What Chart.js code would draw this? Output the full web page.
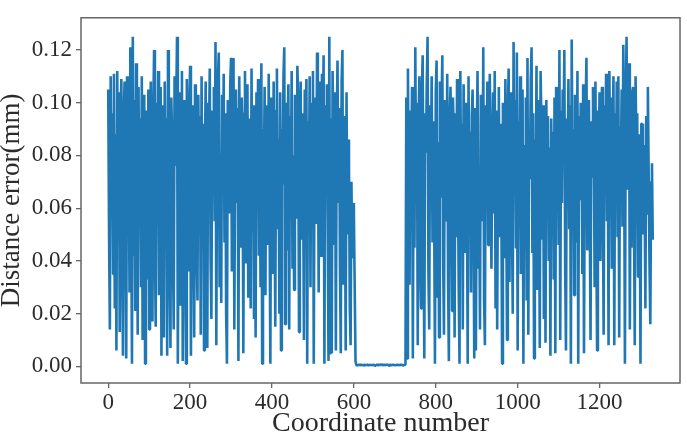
<!DOCTYPE html>
<html>
<head>
<meta charset="utf-8">
<script src="https://cdn.jsdelivr.net/npm/chart.js@4.4.1/dist/chart.umd.min.js"></script>
<style>
    html, body { margin: 0; padding: 0; background: #ffffff; }
    #wrap { width: 687px; height: 435px; }
</style>
</head>
<body>
<div id="wrap"><canvas id="myChart" width="687" height="435"></canvas></div>
<script>
// distance error per coordinate, in thousandths of a mm, one value every 2 coordinates
const coordStep = 2;

// coordinates 0 .. 604
const leftSegment = [
    105, 50, 14, 110, 62, 96, 35, 111, 22, 88,
    6, 112, 48, 104, 13, 92, 109, 40, 4, 97,
    108, 55, 3, 110, 71, 84, 28, 121, 60, 1,
    125, 42, 101, 21, 115, 79, 12, 106, 58, 94,
    30, 110, 10, 86, 103, 1, 77, 97, 33, 105,
    14, 89, 108, 62, 17, 95, 120, 45, 15, 100,
    73, 112, 27, 91, 106, 4, 84, 99, 11, 108,
    52, 94, 4, 120, 68, 38, 7, 102, 88, 44,
    14, 110, 76, 97, 125, 1, 59, 104, 23, 93,
    112, 2, 66, 101, 48, 1, 109, 81, 36, 97,
    114, 4, 70, 99, 57, 11, 107, 88, 43, 25,
    103, 67, 95, 12, 110, 50, 92, 6, 78, 108,
    34, 7, 100, 86, 113, 41, 18, 97, 72, 106,
    55, 123, 8, 89, 109, 119, 30, 81, 24, 103,
    65, 111, 47, 96, 20, 1, 101, 78, 58, 107,
    117, 36, 93, 117, 14, 84, 105, 62, 98, 2,
    110, 73, 45, 102, 88, 5, 96, 112, 39, 80,
    107, 26, 94, 63, 22, 113, 51, 99, 18, 87,
    11, 104, 76, 109, 42, 95, 30, 115, 1, 90,
    67, 106, 27, 99, 83, 46, 111, 58, 1, 102,
    92, 35, 108, 74, 15, 97, 113, 52, 86, 20,
    104, 6, 90, 69, 110, 121, 16, 100, 44, 88,
    107, 14, 95, 61, 112, 37, 80, 29, 103, 91,
    56, 114, 99, 13, 85, 108, 48, 96, 71, 10,
    105, 82, 109, 1, 93, 64, 110, 30, 100, 77,
    112, 1, 89, 102, 54, 119, 97, 28, 108, 68,
    42, 111, 86, 118, 1, 99, 73, 107, 57, 2,
    125, 5, 94, 5, 112, 83, 46, 104, 6, 90,
    116, 62, 98, 38, 5, 108, 120, 31, 95, 71,
    6, 104, 50, 86, 78, 22, 8, 70, 41, 62,
    58, 30, 2
];

// coordinates 606 .. 726
const flatSegment = [
    0.5, 0.4, 0.6, 0.5, 0.7, 0.4, 0.5, 0.6, 0.3, 0.5,
    0.6, 0.4, 0.5, 0.8, 0.5, 0.4, 0.6, 0.5, 0.5, 0.7,
    0.4, 0.6, 0.5, 0.3, 0.6, 0.5, 0.7, 0.4, 0.5, 0.6,
    0.5, 0.8, 0.4, 0.5, 0.6, 0.5, 0.4, 0.7, 0.5, 0.6,
    0.3, 0.5, 0.6, 0.4, 0.5, 0.7, 0.5, 0.6, 0.4, 0.5,
    0.6, 0.5, 0.4, 0.6, 0.5, 0.7, 0.5, 0.4, 0.6, 0.5,
    0.8
];

// coordinates 728 .. 1330
const rightSegment = [
    102, 3, 113, 58, 31, 97, 74, 106, 3, 88,
    45, 121, 66, 100, 8, 92, 110, 39, 22, 104,
    118, 52, 3, 96, 81, 107, 125, 36, 14, 99,
    71, 110, 47, 93, 60, 1, 104, 116, 26, 85,
    11, 108, 64, 97, 118, 42, 12, 101, 79, 55,
    111, 33, 2, 94, 106, 68, 21, 102, 87, 11,
    96, 49, 109, 75, 30, 1, 112, 58, 92, 14,
    107, 80, 43, 100, 66, 1, 110, 52, 89, 28,
    95, 105, 61, 3, 98, 6, 84, 112, 37, 70,
    14, 103, 90, 55, 121, 25, 8, 99, 76, 108,
    46, 94, 111, 63, 37, 86, 104, 58, 112, 22,
    97, 14, 81, 106, 49, 92, 70, 1, 100, 85,
    41, 109, 66, 10, 95, 113, 32, 88, 104, 57,
    20, 123, 79, 101, 45, 119, 6, 93, 68, 110,
    35, 98, 105, 1, 84, 60, 102, 25, 117, 12,
    90, 71, 108, 121, 43, 96, 3, 86, 55, 114,
    29, 101, 77, 7, 112, 92, 48, 99, 18, 88,
    9, 101, 64, 95, 40, 83, 4, 94, 57, 89,
    33, 102, 5, 106, 70, 91, 46, 120, 10, 97,
    62, 105, 85, 120, 38, 6, 94, 74, 109, 52,
    99, 1, 124, 68, 90, 27, 103, 81, 47, 112,
    1, 95, 63, 100, 88, 35, 107, 5, 79, 98,
    117, 44, 86, 101, 59, 10, 93, 72, 106, 89,
    30, 108, 51, 6, 97, 83, 104, 40, 90, 106,
    66, 12, 99, 78, 111, 55, 94, 8, 112, 71,
    102, 37, 87, 110, 8, 96, 63, 108, 49, 110,
    11, 91, 74, 105, 53, 122, 84, 1, 100, 125,
    67, 98, 115, 14, 88, 45, 104, 106, 60, 8,
    110, 79, 96, 34, 88, 71, 1, 92, 92, 50,
    84, 66, 22, 95, 58, 106, 73, 39, 16, 70,
    77, 48
];

const xTicks = [0, 200, 400, 600, 800, 1000, 1200];
const yTicks = [0.00, 0.02, 0.04, 0.06, 0.08, 0.10, 0.12];

const serif = "'Liberation Serif', 'DejaVu Serif', serif";
const textColor = '#2b2b2b';
const frameColor = '#666666';

const allErrors = leftSegment.concat(flatSegment, rightSegment);
const points = allErrors.map((v, i) => ({ x: i * coordStep, y: v / 1000 }));

// box around the plot, like matplotlib spines
const frame = {
    id: 'frame',
    afterDatasetsDraw(chart) {
        const a = chart.chartArea;
        const ctx = chart.ctx;
        ctx.save();
        ctx.strokeStyle = frameColor;
        ctx.lineWidth = 1.5;
        ctx.strokeRect(a.left, a.top, a.right - a.left, a.bottom - a.top);
        ctx.restore();
    }
};

let chart = new Chart("myChart", {
    type: "line",
    data: {
        datasets: [{
            data: points,
            borderColor: "#1f77b4",
            borderWidth: 2.6,
            borderJoinStyle: "bevel",
            pointRadius: 0,
            tension: 0,
            fill: false
        }]
    },
    options: {
        responsive: false,
        animation: false,
        parsing: false,
        normalized: true,
        layout: { padding: { top: 5, right: 7, bottom: 0, left: 0 } },
        plugins: {
            legend: { display: false },
            tooltip: { enabled: false }
        },
        scales: {
            x: {
                type: "linear",
                min: -66.5,
                max: 1396.5,
                afterBuildTicks: (s) => { s.ticks = xTicks.map(v => ({ value: v })); },
                afterFit: (s) => { s.height = 52; },
                ticks: {
                    font: { family: serif, size: 23 },
                    color: textColor,
                    padding: 1,
                    maxRotation: 0,
                    callback: (v) => String(v)
                },
                grid: { drawOnChartArea: false, drawTicks: true, tickLength: 5, color: frameColor, lineWidth: 1.3 },
                border: { display: false },
                title: {
                    display: true,
                    text: "Coordinate number",
                    font: { family: serif, size: 28, lineHeight: 0.78 },
                    color: textColor,
                    padding: 0
                }
            },
            y: {
                min: -0.0063,
                max: 0.1322,
                afterBuildTicks: (s) => { s.ticks = yTicks.map(v => ({ value: v })); },
                afterFit: (s) => { s.width = 81; },
                ticks: {
                    font: { family: serif, size: 23 },
                    color: textColor,
                    padding: 4,
                    callback: (v) => v.toFixed(2)
                },
                grid: { drawOnChartArea: false, drawTicks: true, tickLength: 5, color: frameColor, lineWidth: 1.3 },
                border: { display: false },
                title: {
                    display: true,
                    text: "Distance error(mm)",
                    font: { family: serif, size: 27, lineHeight: 0.85 },
                    color: textColor,
                    padding: 0
                }
            }
        }
    },
    plugins: [frame]
});
</script>
</body>
</html>
